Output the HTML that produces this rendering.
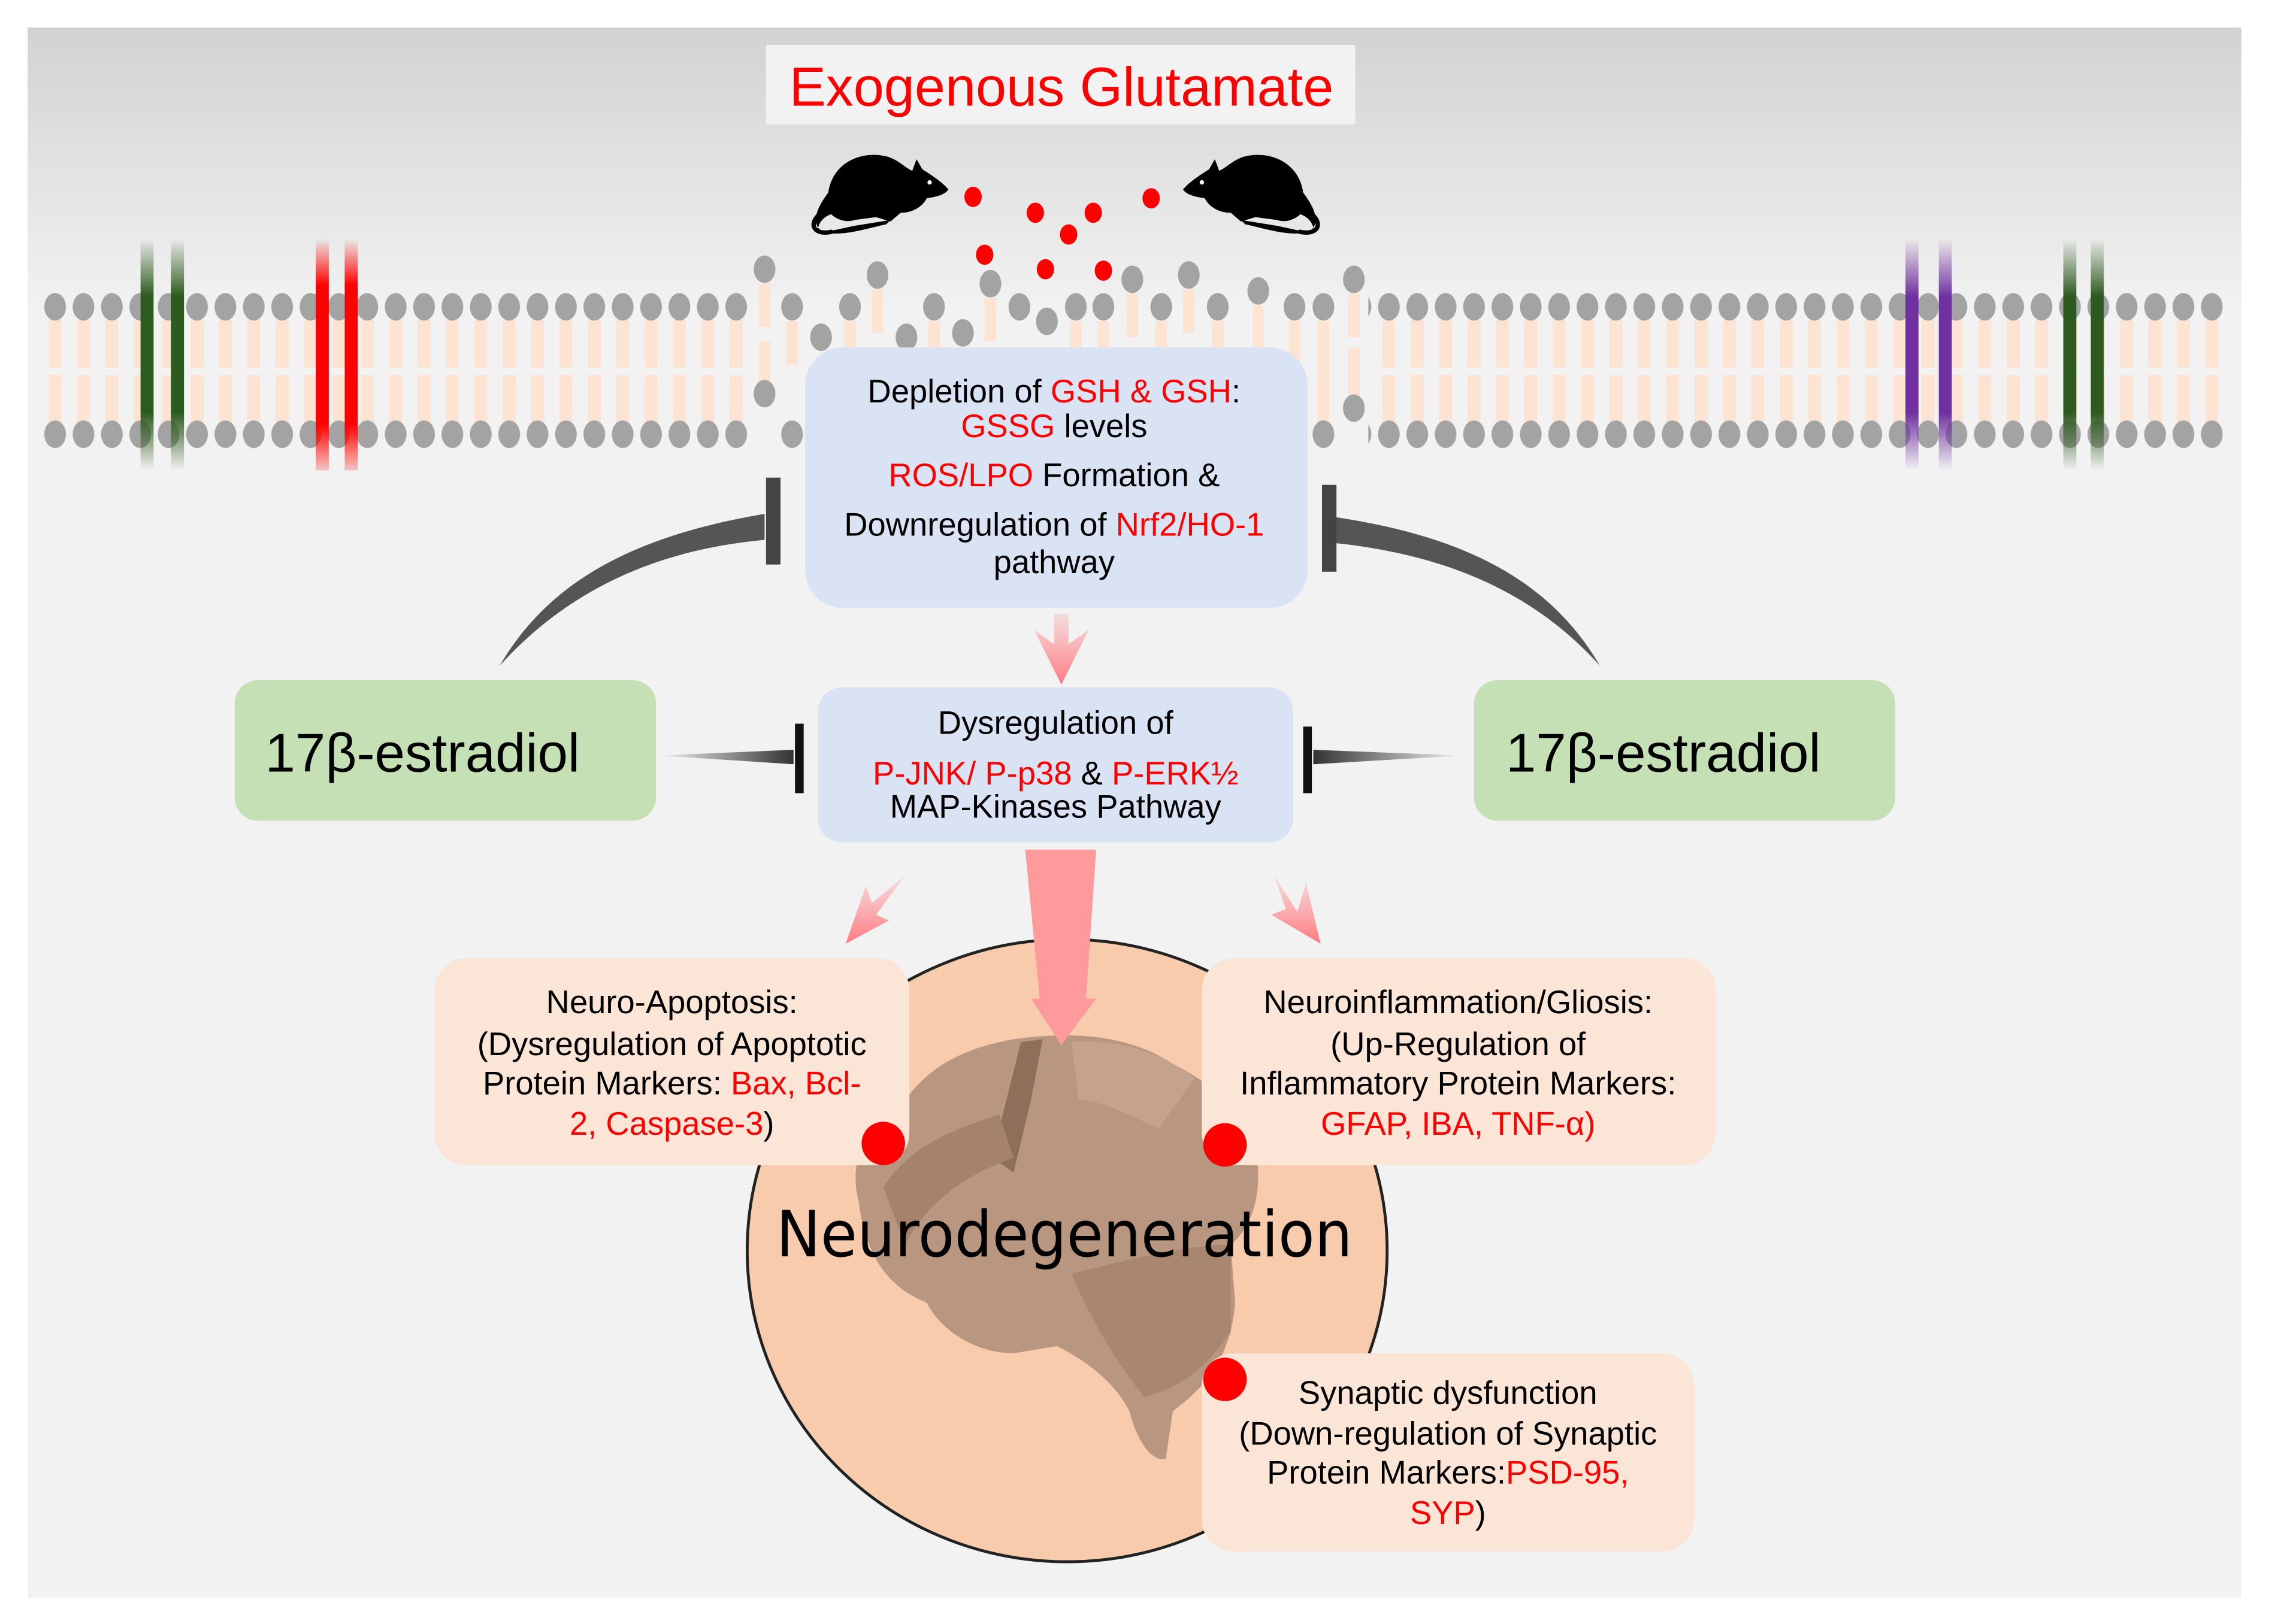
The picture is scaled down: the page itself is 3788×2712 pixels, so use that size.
<!DOCTYPE html>
<html><head><meta charset="utf-8"><style>
html,body{margin:0;padding:0;background:#fff}
svg{display:block}
text{font-family:"Liberation Sans",Arial,sans-serif}
</style></head><body>
<svg width="3788" height="2712" viewBox="0 0 1567 1122" xmlns="http://www.w3.org/2000/svg">
<defs>
<linearGradient id="bg" x1="0" y1="0" x2="0" y2="1">
<stop offset="0" stop-color="#d2d2d2"/><stop offset="0.18" stop-color="#f2f2f2"/><stop offset="1" stop-color="#f2f2f2"/>
</linearGradient>
<pattern id="mem" patternUnits="userSpaceOnUse" x="28.2" y="200" width="19.6" height="112">
<rect x="5.3" y="21" width="9" height="33" fill="#fde3d2"/>
<rect x="5.3" y="59" width="9" height="33" fill="#fde3d2"/>
<ellipse cx="9.8" cy="12" rx="7.5" ry="9.5" fill="#a3a3a3"/>
<ellipse cx="9.8" cy="100" rx="7.5" ry="9.5" fill="#a3a3a3"/>
</pattern>
<linearGradient id="gr" x1="0" y1="0" x2="0" y2="1">
<stop offset="0" stop-color="#2d5a1e" stop-opacity="0"/><stop offset="0.25" stop-color="#2d5a1e"/><stop offset="0.75" stop-color="#2d5a1e"/><stop offset="1" stop-color="#2d5a1e" stop-opacity="0"/>
</linearGradient>
<linearGradient id="rd" x1="0" y1="0" x2="0" y2="1">
<stop offset="0" stop-color="#f00" stop-opacity="0"/><stop offset="0.2" stop-color="#f00"/><stop offset="0.8" stop-color="#f00"/><stop offset="1" stop-color="#f00" stop-opacity="0.2"/>
</linearGradient>
<linearGradient id="pu" x1="0" y1="0" x2="0" y2="1">
<stop offset="0" stop-color="#7030a0" stop-opacity="0"/><stop offset="0.25" stop-color="#7030a0"/><stop offset="0.75" stop-color="#7030a0"/><stop offset="1" stop-color="#7030a0" stop-opacity="0"/>
</linearGradient>
<linearGradient id="hl" x1="0" y1="0" x2="1" y2="0">
<stop offset="0" stop-color="#333" stop-opacity="0"/><stop offset="1" stop-color="#333"/>
</linearGradient>
<linearGradient id="hr" x1="1" y1="0" x2="0" y2="0">
<stop offset="0" stop-color="#333" stop-opacity="0"/><stop offset="1" stop-color="#333"/>
</linearGradient>
<linearGradient id="pk" x1="0" y1="0" x2="0" y2="1">
<stop offset="0" stop-color="#ff8a8f" stop-opacity="0.2"/><stop offset="1" stop-color="#ff7a80"/>
</linearGradient>
</defs>
<rect x="19" y="19" width="1529" height="1085" fill="url(#bg)"/>
<rect x="28" y="200" width="490" height="112" fill="url(#mem)"/>
<rect x="945" y="200" width="590" height="112" fill="url(#mem)"/>
<g fill="#fde3d2">
<rect x="524" y="196" width="8" height="30"/><rect x="602" y="200" width="8" height="30"/><rect x="680" y="206" width="8" height="30"/><rect x="778" y="203" width="8" height="30"/><rect x="817" y="200" width="8" height="30"/><rect x="865" y="211" width="8" height="30"/><rect x="931" y="203" width="8" height="30"/>
<rect x="524" y="236" width="8" height="30"/><rect x="931" y="240" width="8" height="35"/><rect x="543" y="222" width="8" height="30"/><rect x="910" y="222" width="8" height="70"/><rect x="583" y="222" width="8" height="30"/><rect x="641" y="222" width="8" height="30"/><rect x="739" y="222" width="8" height="30"/><rect x="758" y="222" width="8" height="30"/><rect x="798" y="222" width="8" height="30"/><rect x="837" y="222" width="8" height="30"/><rect x="890" y="222" width="8" height="30"/>
</g>
<g fill="#a3a3a3">
<ellipse cx="528" cy="186" rx="7.5" ry="9.5"/><ellipse cx="547" cy="212" rx="7.5" ry="9.5"/><ellipse cx="567" cy="233" rx="7.5" ry="9.5"/><ellipse cx="587" cy="212" rx="7.5" ry="9.5"/><ellipse cx="606" cy="190" rx="7.5" ry="9.5"/><ellipse cx="626" cy="233" rx="7.5" ry="9.5"/><ellipse cx="645" cy="212" rx="7.5" ry="9.5"/><ellipse cx="665" cy="230" rx="7.5" ry="9.5"/><ellipse cx="684" cy="196" rx="7.5" ry="9.5"/><ellipse cx="704" cy="212" rx="7.5" ry="9.5"/><ellipse cx="723" cy="222" rx="7.5" ry="9.5"/><ellipse cx="743" cy="212" rx="7.5" ry="9.5"/><ellipse cx="762" cy="212" rx="7.5" ry="9.5"/><ellipse cx="782" cy="193" rx="7.5" ry="9.5"/><ellipse cx="802" cy="212" rx="7.5" ry="9.5"/><ellipse cx="821" cy="190" rx="7.5" ry="9.5"/><ellipse cx="841" cy="212" rx="7.5" ry="9.5"/><ellipse cx="869" cy="201" rx="7.5" ry="9.5"/><ellipse cx="894" cy="212" rx="7.5" ry="9.5"/><ellipse cx="914" cy="212" rx="7.5" ry="9.5"/><ellipse cx="935" cy="193" rx="7.5" ry="9.5"/>
<ellipse cx="528" cy="272" rx="7.5" ry="9.5"/><ellipse cx="547" cy="300" rx="7.5" ry="9.5"/><ellipse cx="914" cy="300" rx="7.5" ry="9.5"/><ellipse cx="935" cy="282" rx="7.5" ry="9.5"/>
</g>
<rect x="97" y="165" width="9" height="160" fill="url(#gr)"/><rect x="118" y="165" width="9" height="160" fill="url(#gr)"/>
<rect x="218" y="165" width="9" height="160" fill="url(#rd)"/><rect x="238" y="165" width="9" height="160" fill="url(#rd)"/>
<rect x="1316" y="165" width="9" height="160" fill="url(#pu)"/><rect x="1339" y="165" width="9" height="160" fill="url(#pu)"/>
<rect x="1425" y="165" width="9" height="160" fill="url(#gr)"/><rect x="1444" y="165" width="9" height="160" fill="url(#gr)"/>
<rect x="529" y="31" width="407" height="55" fill="#f2f2f2"/>
<text x="733" y="73" font-size="38" fill="#f00" text-anchor="middle">Exogenous Glutamate</text>
<g id="mouse">
<path d="M572,133 C575,112 595,104 612,108 C620,110 625,116 630,118 L633,110 L637,117 C645,122 652,127 655,131 C652,135 646,136 640,137 C637,143 630,147 622,147 L615,153 L605,150 L590,152 C585,154 578,152 574,148 C568,150 565,155 565,158 C567,162 580,158 590,156 L615,152 L612,155 C598,158 580,164 568,160 C560,155 563,145 572,133 Z" fill="#000"/>
<circle cx="642" cy="126" r="1.5" fill="#fff"/>
<path d="M566,148 C558,155 562,163 575,160" fill="none" stroke="#000" stroke-width="3"/>
</g>
<use href="#mouse" transform="translate(1472,0) scale(-1,1)"/>
<g fill="#f00">
<ellipse cx="672" cy="136" rx="6" ry="7"/><ellipse cx="715" cy="147" rx="6" ry="7"/><ellipse cx="755" cy="147" rx="6" ry="7"/><ellipse cx="795" cy="137" rx="6" ry="7"/><ellipse cx="738" cy="162" rx="6" ry="7"/><ellipse cx="680" cy="176" rx="6" ry="7"/><ellipse cx="722" cy="186" rx="6" ry="7"/><ellipse cx="762" cy="187" rx="6" ry="7"/>
</g>
<rect x="556" y="240" width="347" height="180" rx="26" fill="#dae3f3"/>
<g font-size="22.5" text-anchor="middle" fill="#000">
<text x="728" y="278">Depletion of <tspan fill="#f00">GSH &amp; GSH</tspan>:</text>
<text x="728" y="302"><tspan fill="#f00">GSSG</tspan> levels</text>
<text x="728" y="336"><tspan fill="#f00">ROS/LPO</tspan> Formation &amp;</text>
<text x="728" y="370">Downregulation of <tspan fill="#f00">Nrf2/HO-1</tspan></text>
<text x="728" y="396">pathway</text>
</g>
<path d="M728,424 L738,424 L738,445 L752,435 L733,473 L714,435 L728,445 Z" fill="url(#pk)"/>
<rect x="565" y="475" width="328" height="107" rx="16" fill="#dae3f3"/>
<g font-size="22.5" text-anchor="middle">
<text x="729" y="507">Dysregulation of</text>
<text x="729" y="542"><tspan fill="#f00">P-JNK/ P-p38</tspan> &amp; <tspan fill="#f00">P-ERK½</tspan></text>
<text x="729" y="565">MAP-Kinases Pathway</text>
</g>
<rect x="162" y="470" width="291" height="97" rx="16" fill="#c5e0b4"/>
<rect x="1018" y="470" width="291" height="97" rx="16" fill="#c5e0b4"/>
<text x="183" y="533" font-size="37.5">17β-estradiol</text>
<text x="1040" y="533" font-size="37.5">17β-estradiol</text>
<path d="M345,460 C380,400 440,370 528,355 L528,373 C450,380 390,410 345,460 Z" fill="#555"/>
<rect x="529" y="330" width="10" height="60" fill="#444"/>
<path d="M1105,460 C1070,400 1010,370 920,357 L920,375 C1000,383 1060,410 1105,460 Z" fill="#555"/>
<rect x="913" y="335" width="10" height="60" fill="#444"/>
<path d="M455,522 L548,518 L548,528 Z" fill="url(#hl)"/>
<rect x="549" y="500" width="6" height="48" fill="#111"/>
<path d="M1010,522 L907,518 L907,528 Z" fill="url(#hr)"/>
<rect x="900" y="502" width="6" height="46" fill="#111"/>
<ellipse cx="737" cy="864" rx="221" ry="215" fill="#f8cbad" stroke="#222" stroke-width="2"/>
<g>
<path d="M593,830 C585,800 600,770 625,760 C640,740 660,725 700,718 C740,712 780,715 810,735 C840,750 860,770 868,800 C872,830 862,850 850,860 L853,900 C850,940 830,960 810,975 L805,1008 C795,1010 785,995 780,975 C770,955 750,940 730,930 L700,935 C675,935 650,920 640,900 C615,890 598,870 593,830 Z" fill="#b89680"/>
<path d="M705,720 L720,718 L712,760 L700,810 L685,800 Z" fill="#8f6f5a"/>
<path d="M610,820 C630,790 660,780 690,770 L700,800 C670,810 640,830 625,860 Z" fill="#a5826c"/>
<path d="M740,880 C780,870 820,860 850,860 L850,920 C830,950 810,960 790,965 C770,940 750,905 740,880 Z" fill="#a88670"/>
<path d="M740,720 C770,718 800,725 825,745 L800,780 C780,770 760,760 745,760 Z" fill="#c4a28b"/>
</g>
<path d="M708,587 L757,587 L750,690 L757,690 L733,722 L712,690 L718,690 Z" fill="#ff9a9c"/>
<path d="M625,605 L605,632 L614,636 L584,652 L598,612 L602,624 Z" fill="url(#pk)"/>
<path d="M880,605 L896,630 L902,610 L912,652 L878,632 L888,628 Z" fill="url(#pk)"/>
<rect x="300" y="662" width="328" height="143" rx="22" fill="#fbe5d6"/>
<rect x="830" y="662" width="355" height="143" rx="22" fill="#fbe5d6"/>
<rect x="830" y="935" width="340" height="137" rx="22" fill="#fbe5d6"/>
<g font-size="22.5" text-anchor="middle">
<text x="464" y="700">Neuro-Apoptosis:</text>
<text x="464" y="729">(Dysregulation of Apoptotic</text>
<text x="464" y="756">Protein Markers: <tspan fill="#f00">Bax, Bcl-</tspan></text>
<text x="464" y="784"><tspan fill="#f00">2, Caspase-3</tspan>)</text>
<text x="1007" y="700">Neuroinflammation/Gliosis:</text>
<text x="1007" y="729">(Up-Regulation  of</text>
<text x="1007" y="756">Inflammatory Protein Markers:</text>
<text x="1007" y="784"><tspan fill="#f00">GFAP,  IBA,  TNF-α)</tspan></text>
<text x="1000" y="970">Synaptic dysfunction</text>
<text x="1000" y="998">(Down-regulation of Synaptic</text>
<text x="1000" y="1025">Protein Markers:<tspan fill="#f00">PSD-95,</tspan></text>
<text x="1000" y="1053"><tspan fill="#f00">SYP</tspan>)</text>
</g>
<circle cx="610" cy="790" r="15" fill="#f00"/>
<circle cx="846" cy="791" r="15" fill="#f00"/>
<circle cx="846" cy="953" r="15" fill="#f00"/>
<text x="735" y="868" font-size="44" text-anchor="middle" style="font-family:'DejaVu Sans',sans-serif" textLength="398" lengthAdjust="spacingAndGlyphs">Neurodegeneration</text>
</svg>
</body></html>
